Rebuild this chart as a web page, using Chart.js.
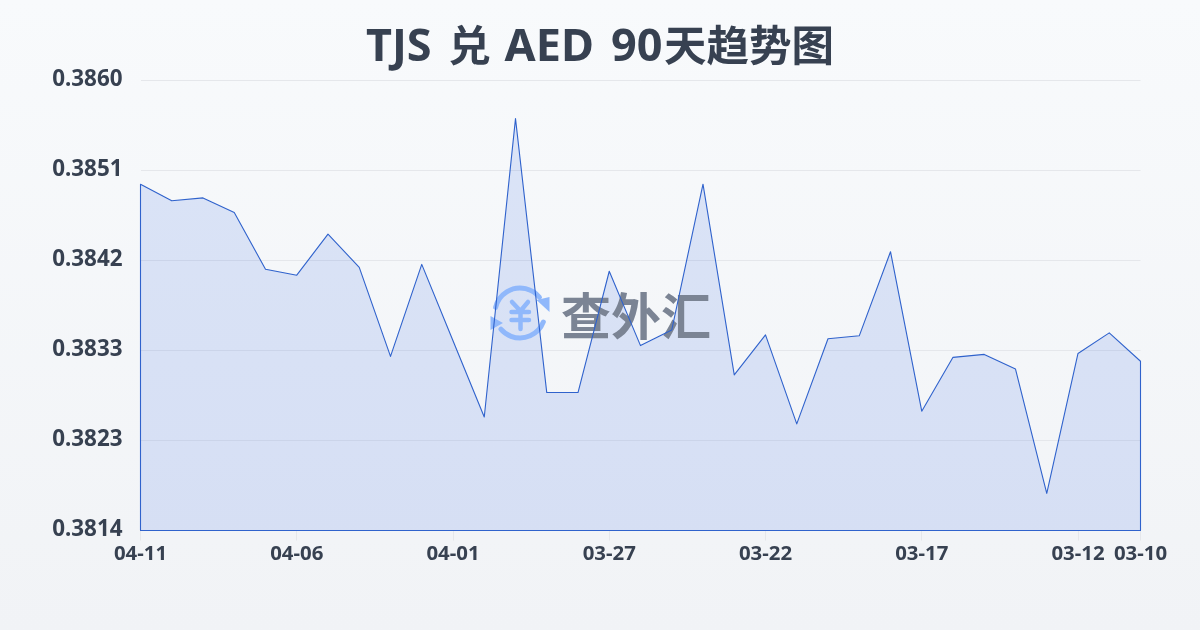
<!DOCTYPE html>
<html>
<head>
<meta charset="utf-8">
<title>TJS 兑 AED 90天趋势图</title>
<script src="https://cdn.jsdelivr.net/npm/chart.js@4"></script>
<style>
  html, body { margin: 0; padding: 0; }
  body { width: 1200px; height: 630px; overflow: hidden; background: linear-gradient(to bottom, #f8fafc, #f1f3f6); }
  #wrap { width: 1200px; height: 630px; }
</style>
</head>
<body>
<div id="wrap"><canvas id="myChart" width="1200" height="630"></canvas></div>
<script>
// 제목은 라틴 글자와 한자의 크기가 달라서 나눠 둔다
const titleParts = ['TJS ', '兑', ' AED ', '90', '天趋势图'];
const dates = ['04-11','04-10','04-09','04-08','04-07','04-06','04-05','04-04','04-03','04-02','04-01',
  '03-31','03-30','03-29','03-28','03-27','03-26','03-25','03-24','03-23','03-22','03-21','03-20',
  '03-19','03-18','03-17','03-16','03-15','03-14','03-13','03-12','03-11','03-10'];
const rates = [0.38494,0.38477,0.38480,0.38465,0.38407,0.38401,0.38443,0.38409,0.38318,0.38412,0.38334,
  0.38256,0.38561,0.38281,0.38281,0.38405,0.38329,0.38345,0.38494,0.38299,0.38340,0.38249,0.38336,
  0.38339,0.38425,0.38262,0.38317,0.38320,0.38305,0.38178,0.38321,0.38342,0.38313];
const xTickLabels = ['04-11','04-06','04-01','03-27','03-22','03-17','03-12','03-10'];
const yTickLabels = ['0.3814','0.3823','0.3833','0.3842','0.3851','0.3860'];
const yMin = 0.3814;
const yMax = 0.3860;

const textColor = '#374151';
const lineColor = '#2f62cc';
const latinTitleFont = 'bold 45px "Noto Sans"';
const cjkTitleFont = 'bold 42.5px "Noto Sans CJK SC"';

// 제목
const titleDraw = {
  id: 'titleDraw',
  afterDraw(chart) {
    const ctx = chart.ctx;
    const fonts = [latinTitleFont, cjkTitleFont, latinTitleFont, latinTitleFont, cjkTitleFont];
    const nudge = [-7, -2, 0, 5.5, 7]; // 글자 사이 간격 보정
    ctx.save();
    ctx.fillStyle = textColor;
    ctx.textBaseline = 'alphabetic';
    ctx.textAlign = 'left';
    let total = 0;
    titleParts.forEach((part, i) => {
      ctx.font = fonts[i];
      total += ctx.measureText(part).width;
    });
    let x = 600 - total / 2;
    titleParts.forEach((part, i) => {
      ctx.font = fonts[i];
      ctx.fillText(part, x + nudge[i], 61);
      x += ctx.measureText(part).width;
    });
    ctx.restore();
  }
};

function drawWatermark(ctx) {
  const cx = 520, cy = 313, r = 25;
  ctx.save();
  ctx.strokeStyle = '#90b8fb';
  ctx.fillStyle = '#90b8fb';
  ctx.lineWidth = 5;
  ctx.lineCap = 'round';
  ctx.lineJoin = 'round';
  ctx.beginPath();
  ctx.arc(cx, cy, r, 193 * Math.PI / 180, 321 * Math.PI / 180);
  ctx.stroke();
  ctx.beginPath();
  ctx.arc(cx, cy, r, 21 * Math.PI / 180, 140 * Math.PI / 180);
  ctx.stroke();
  // 화살표 머리
  ctx.beginPath();
  ctx.moveTo(549.5, 297); ctx.lineTo(549.5, 312); ctx.lineTo(536.5, 300); ctx.closePath();
  ctx.fill();
  ctx.beginPath();
  ctx.moveTo(490.5, 316); ctx.lineTo(490.5, 330); ctx.lineTo(503, 323); ctx.closePath();
  ctx.fill();
  // 엔화 기호
  ctx.lineWidth = 4.5;
  ctx.beginPath();
  ctx.moveTo(512, 302); ctx.lineTo(520.5, 311); ctx.lineTo(528, 302);
  ctx.moveTo(511.5, 312); ctx.lineTo(529, 312);
  ctx.moveTo(511.5, 320); ctx.lineTo(529, 320);
  ctx.moveTo(520.5, 312); ctx.lineTo(520.5, 329);
  ctx.stroke();
  ctx.fillStyle = '#7b8494';
  ctx.font = 'bold 50px "Noto Sans CJK SC"';
  ctx.textAlign = 'left';
  ctx.textBaseline = 'middle';
  ctx.fillText('查外汇', 561, 316);
  ctx.restore();
}

// 면적 위에 워터마크를 올리고, 그 위에 닫힌 테두리를 그린다
const overlay = {
  id: 'overlay',
  afterDatasetsDraw(chart) {
    const ctx = chart.ctx;
    const points = chart.getDatasetMeta(0).data;
    const bottom = chart.chartArea.bottom;
    drawWatermark(ctx);
    ctx.save();
    ctx.strokeStyle = lineColor;
    ctx.lineWidth = 1.1;
    ctx.lineJoin = 'round';
    ctx.beginPath();
    points.forEach((p, i) => {
      if (i === 0) ctx.moveTo(p.x, p.y);
      else ctx.lineTo(p.x, p.y);
    });
    ctx.lineTo(points[points.length - 1].x, bottom);
    ctx.lineTo(points[0].x, bottom);
    ctx.closePath();
    ctx.stroke();
    ctx.restore();
  }
};

new Chart(document.getElementById('myChart'), {
  type: 'line',
  data: {
    labels: dates,
    datasets: [{
      data: rates,
      borderWidth: 0,
      backgroundColor: 'rgba(52, 100, 225, 0.14)',
      fill: 'start',
      pointRadius: 0,
      tension: 0
    }]
  },
  options: {
    responsive: false,
    animation: false,
    layout: { padding: { left: 0, right: 59.5, top: 80.5, bottom: 0 } },
    plugins: {
      legend: { display: false },
      tooltip: { enabled: false },
      title: { display: false }
    },
    scales: {
      x: {
        afterFit(scale) { scale.height = 99.5; },
        afterBuildTicks(scale) {
          scale.ticks = scale.ticks.filter(t => xTickLabels.includes(dates[t.value]));
        },
        grid: { drawOnChartArea: false, drawTicks: true, tickLength: 10, color: '#e5e7eb' },
        border: { display: false },
        ticks: {
          autoSkip: false,
          maxRotation: 0,
          padding: 1,
          color: textColor,
          font: { family: '"Noto Sans"', size: 20.4, weight: 'bold' },
          callback(value) { return dates[value]; }
        }
      },
      y: {
        min: yMin,
        max: yMax,
        afterFit(scale) { scale.width = 140.5; },
        afterBuildTicks(scale) {
          const step = (yMax - yMin) / (yTickLabels.length - 1);
          scale.ticks = yTickLabels.map((label, i) => ({ value: yMin + step * i, label: label }));
        },
        afterTickToLabelConversion(scale) {
          scale.ticks.forEach((t, i) => { t.label = yTickLabels[i]; });
        },
        grid: { color: '#e5e7eb', lineWidth: 1, drawTicks: false },
        border: { display: false },
        ticks: {
          padding: 18,
          labelOffset: -0.5,
          color: textColor,
          font: { family: '"Noto Sans"', size: 22.4, weight: 'bold' }
        }
      }
    }
  },
  plugins: [overlay, titleDraw]
});
</script>
</body>
</html>
